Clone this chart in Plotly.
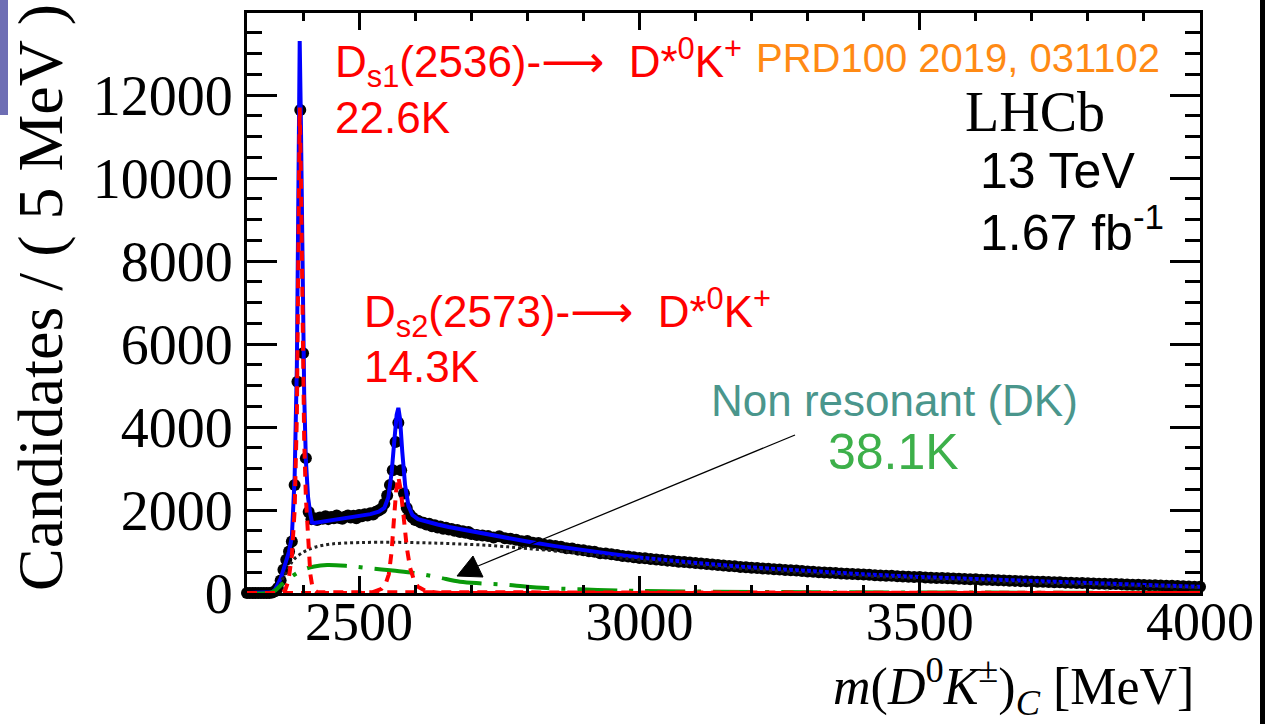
import plotly.graph_objects as go

# ---------------- data ----------------
mass_fine = list(range(2300, 2705, 5))
counts_fine = [0, 0, 0, 0, 0, 0, 0, 0, 0,
               10, 40, 120, 300, 560, 800, 1000, 1240, 2600, 5090, 11640, 5780, 3250, 1950, 1780,
               1800, 1760, 1820, 1790, 1850, 1780, 1830, 1800, 1870, 1810, 1790, 1840, 1870, 1820,
               1860, 1800, 1880, 1850, 1900, 1870, 1920, 1890, 1960, 1990, 2030,
               2150, 2350, 2600, 2960, 3640, 4100, 2960, 2400, 2050, 1900, 1820,
               1760, 1740, 1700, 1690, 1650, 1670, 1610, 1630, 1580, 1600, 1550, 1570, 1530,
               1540, 1500, 1520, 1470, 1490, 1450, 1470, 1420]

mass_tail = list(range(2710, 4010, 10))
counts_tail = [1400, 1385, 1375, 1340, 1365, 1320, 1310, 1285, 1250,
               1255, 1210, 1205, 1165, 1150, 1135, 1115, 1080, 1075, 1045,
               1030, 1005, 995, 960, 950, 935, 915, 890, 880, 860,
               845, 835, 820, 805, 795, 780, 770, 752, 745, 732,
               722, 708, 698, 686, 672, 665, 650, 642, 628, 620,
               610, 602, 590, 582, 572, 565, 556, 546, 540, 528,
               520, 514, 502, 496, 486, 480, 470, 466, 456, 450,
               445, 438, 430, 424, 416, 414, 405, 400, 392, 388,
               385, 376, 370, 364, 360, 355, 348, 342, 338, 331,
               330, 321, 318, 311, 306, 304, 296, 292, 286, 282,
               280, 272, 270, 263, 260, 257, 250, 246, 241, 238,
               235, 229, 225, 220, 216, 214, 208, 205, 200, 197,
               195, 189, 185, 180, 176, 172, 168, 163, 158, 153,
               150]

# total fit (blue)
fit_mass = [2300, 2340, 2345, 2350, 2355, 2360, 2365, 2370, 2375, 2380, 2385, 2389, 2392, 2394,
            2396, 2399, 2402, 2405, 2409, 2413, 2416, 2420, 2440, 2460, 2480, 2500, 2520, 2535,
            2545, 2552, 2558, 2563, 2567, 2570, 2573, 2577, 2582, 2588, 2595, 2605, 2620, 2640,
            2660, 2690, 2720, 2750, 2800, 2850, 2900, 2950, 3000, 3050, 3100, 3200, 3300, 3400,
            3500, 3600, 3700, 3800, 3900, 4000]
fit_counts = [0, 0, 20, 80, 200, 350, 560, 780, 1000, 1350, 2800, 5500, 9500, 13300,
              11500, 7500, 4800, 3200, 2300, 1900, 1700, 1690, 1730, 1770, 1810, 1850, 1900, 1960,
              2050, 2300, 2900, 3700, 4300, 4460, 4200, 3400, 2600, 2100, 1880, 1780, 1720, 1650,
              1590, 1510, 1430, 1360, 1240, 1130, 1030, 940, 855, 785, 725, 615, 525, 450,
              385, 332, 283, 237, 195, 150]

# Ds1(2536) signal (red dashed)
ds1_mass = [2300, 2360, 2368, 2374, 2380, 2385, 2389, 2392, 2394, 2396, 2399, 2402, 2405,
            2409, 2413, 2417, 2425, 4000]
ds1_counts = [0, 0, 60, 300, 900, 2000, 4300, 8200, 11700, 10200, 6200, 3700, 2300,
              1200, 450, 120, 20, 0]

# Ds2(2573) signal (red dashed)
ds2_mass = [2300, 2520, 2540, 2548, 2553, 2558, 2562, 2566, 2570, 2574, 2579, 2585, 2591,
            2597, 2605, 2620, 2645, 4000]
ds2_counts = [0, 0, 100, 250, 450, 1000, 1750, 2450, 2800, 2500, 1900, 1100, 600,
              350, 150, 40, 0, 0]

# non-resonant DK (green dash-dot)
nr_mass = [2300, 2340, 2350, 2360, 2370, 2380, 2400, 2420, 2443, 2480, 2515, 2560, 2600,
           2640, 2680, 2720, 2760, 2800, 2835, 2880, 2925, 2995, 3100, 3300, 3600, 4000]
nr_counts = [0, 0, 60, 180, 300, 400, 560, 640, 675, 650, 600, 540, 480,
             380, 270, 230, 200, 150, 120, 95, 75, 50, 35, 20, 10, 5]

# other background (black dotted)
bkg_mass = [2300, 2345, 2355, 2365, 2375, 2383, 2400, 2420, 2450, 2500, 2570, 2640, 2700,
            2750, 2800, 2900, 3000, 3200, 3500, 3800, 4000]
bkg_counts = [0, 0, 120, 380, 620, 800, 980, 1100, 1180, 1215, 1220, 1200, 1170,
              1130, 1070, 950, 800, 570, 345, 200, 130]

x_ticks = [2500, 3000, 3500, 4000]
y_ticks = [0, 2000, 4000, 6000, 8000, 10000, 12000]

# ---------------- figure ----------------
W, H = 1276, 724
L, R, T, B = 247, 76, 13, 131
PW, PH = W - L - R, H - T - B


def fx(p):
    return (p - L) / PW


def fy(p):
    return (H - B - p) / PH


data_mass = mass_fine + mass_tail
data_counts = counts_fine + counts_tail

fig = go.Figure()

fig.add_trace(go.Scatter(
    x=data_mass, y=data_counts, mode="markers",
    marker=dict(color="black", size=12, symbol="circle"),
    error_y=dict(type="sqrt", color="black", thickness=2, width=0),
    cliponaxis=False, showlegend=False, hoverinfo="skip"))

split = fit_mass.index(3000)
fig.add_trace(go.Scatter(
    x=fit_mass[:split + 1], y=fit_counts[:split + 1], mode="lines",
    line=dict(color="#0000FF", width=4), showlegend=False, hoverinfo="skip"))
fig.add_trace(go.Scatter(
    x=fit_mass[split:], y=fit_counts[split:], mode="lines",
    line=dict(color="#0000FF", width=4, dash="4px,2px"), showlegend=False, hoverinfo="skip"))

fig.add_trace(go.Scatter(
    x=bkg_mass, y=bkg_counts, mode="lines", line_shape="spline",
    line=dict(color="#222222", width=3, dash="3px,3px"), showlegend=False, hoverinfo="skip"))

fig.add_trace(go.Scatter(
    x=nr_mass, y=nr_counts, mode="lines", line_shape="spline",
    line=dict(color="#0A9A0A", width=4, dash="40px,12px,4px,12px"),
    cliponaxis=False, showlegend=False, hoverinfo="skip"))

fig.add_trace(go.Scatter(
    x=ds2_mass, y=ds2_counts, mode="lines",
    line=dict(color="#FF0000", width=4, dash="10px,8px"),
    cliponaxis=False, showlegend=False, hoverinfo="skip"))

fig.add_trace(go.Scatter(
    x=ds1_mass, y=ds1_counts, mode="lines",
    line=dict(color="#FF0000", width=4, dash="10px,8px"),
    cliponaxis=False, showlegend=False, hoverinfo="skip"))

serif = "Liberation Serif, Times New Roman, serif"
sans = "Liberation Sans, Arial, DejaVu Sans, sans-serif"

fig.update_xaxes(
    range=[2300, 4000], tickvals=x_ticks, ticktext=[str(v) for v in x_ticks],
    ticks="inside", ticklen=17, tickwidth=2.5, tickcolor="black",
    showline=True, linecolor="black", linewidth=3, mirror="allticks",
    showgrid=False, zeroline=False,
    tickfont=dict(family=serif, size=54, color="black"), ticklabelstandoff=-21,
    minor=dict(dtick=100, tick0=2300, ticks="inside", ticklen=8, tickwidth=2.5,
               tickcolor="black", showgrid=False))
fig.update_yaxes(
    range=[0, 13976], tickvals=y_ticks, ticktext=[str(v) for v in y_ticks],
    ticks="inside", ticklen=30, tickwidth=2.5, tickcolor="black",
    showline=True, linecolor="black", linewidth=3, mirror="allticks",
    showgrid=False, zeroline=False,
    tickfont=dict(family=serif, size=56, color="black"), ticklabelstandoff=0,
    minor=dict(dtick=500, tick0=0, ticks="inside", ticklen=15, tickwidth=2.5,
               tickcolor="black", showgrid=False))

red = "#FF0000"
ann = []


def add_text(text, px, py, size, color, family=sans, xanchor="left", angle=0):
    ann.append(dict(text=text, x=fx(px), y=fy(py), xref="paper", yref="paper",
                    xanchor=xanchor, yanchor="middle", showarrow=False, textangle=angle,
                    font=dict(family=family, size=size, color=color)))


add_text("D<sub>s1</sub>(2536)-⟶&nbsp; D*<sup>0</sup>K<sup>+</sup>", 333, 62, 44, red)
add_text("22.6K", 333, 117, 44, red)
add_text("PRD100 2019, 031102", 754, 58, 40, "#FF8A14")
add_text("LHCb", 963, 112, 56, "black", family=serif)
add_text("13 TeV", 978, 171, 50, "black")
add_text("1.67 fb<sup>-1</sup>", 978, 229, 50, "black")
add_text("D<sub>s2</sub>(2573)-⟶&nbsp; D*<sup>0</sup>K<sup>+</sup>", 362, 312, 44, red)
add_text("14.3K", 362, 366, 44, red)
add_text("Non resonant (DK)", 709, 400, 44, "#4A968C")
add_text("38.1K", 826, 452, 50, "#3DB04A")
add_text("Candidates / ( 5 MeV )", 40, 298, 64, "black", family=serif, xanchor="center", angle=-90)
add_text("<i>m</i>(<i>D</i><sup>0</sup><i>K</i><sup>±</sup>)<sub><i>C</i></sub> [MeV]",
         1196, 686, 52, "black", family=serif, xanchor="right")

shapes = [
    dict(type="line", xref="paper", yref="paper", x0=fx(478), y0=fy(566), x1=fx(795), y1=fy(435),
         line=dict(color="black", width=1.3)),
    dict(type="path", xref="paper", yref="paper",
         path=f"M {fx(457)} {fy(576)} L {fx(473)} {fy(556)} L {fx(483)} {fy(577)} Z",
         fillcolor="black", line=dict(color="black", width=1)),
    dict(type="rect", xref="paper", yref="paper", x0=fx(0), x1=fx(8), y0=fy(0), y1=fy(115),
         fillcolor="#6E6EB4", line=dict(width=0), layer="above"),
    dict(type="rect", xref="paper", yref="paper", x0=fx(1260), x1=fx(1265), y0=fy(0), y1=fy(724),
         fillcolor="black", line=dict(width=0), layer="above"),
]

fig.update_layout(
    width=W, height=H, margin=dict(l=L, r=R, t=T, b=B, autoexpand=False),
    paper_bgcolor="white", plot_bgcolor="white",
    annotations=ann, shapes=shapes, showlegend=False)

fig.write_html("out.html", config={"displayModeBar": False})
